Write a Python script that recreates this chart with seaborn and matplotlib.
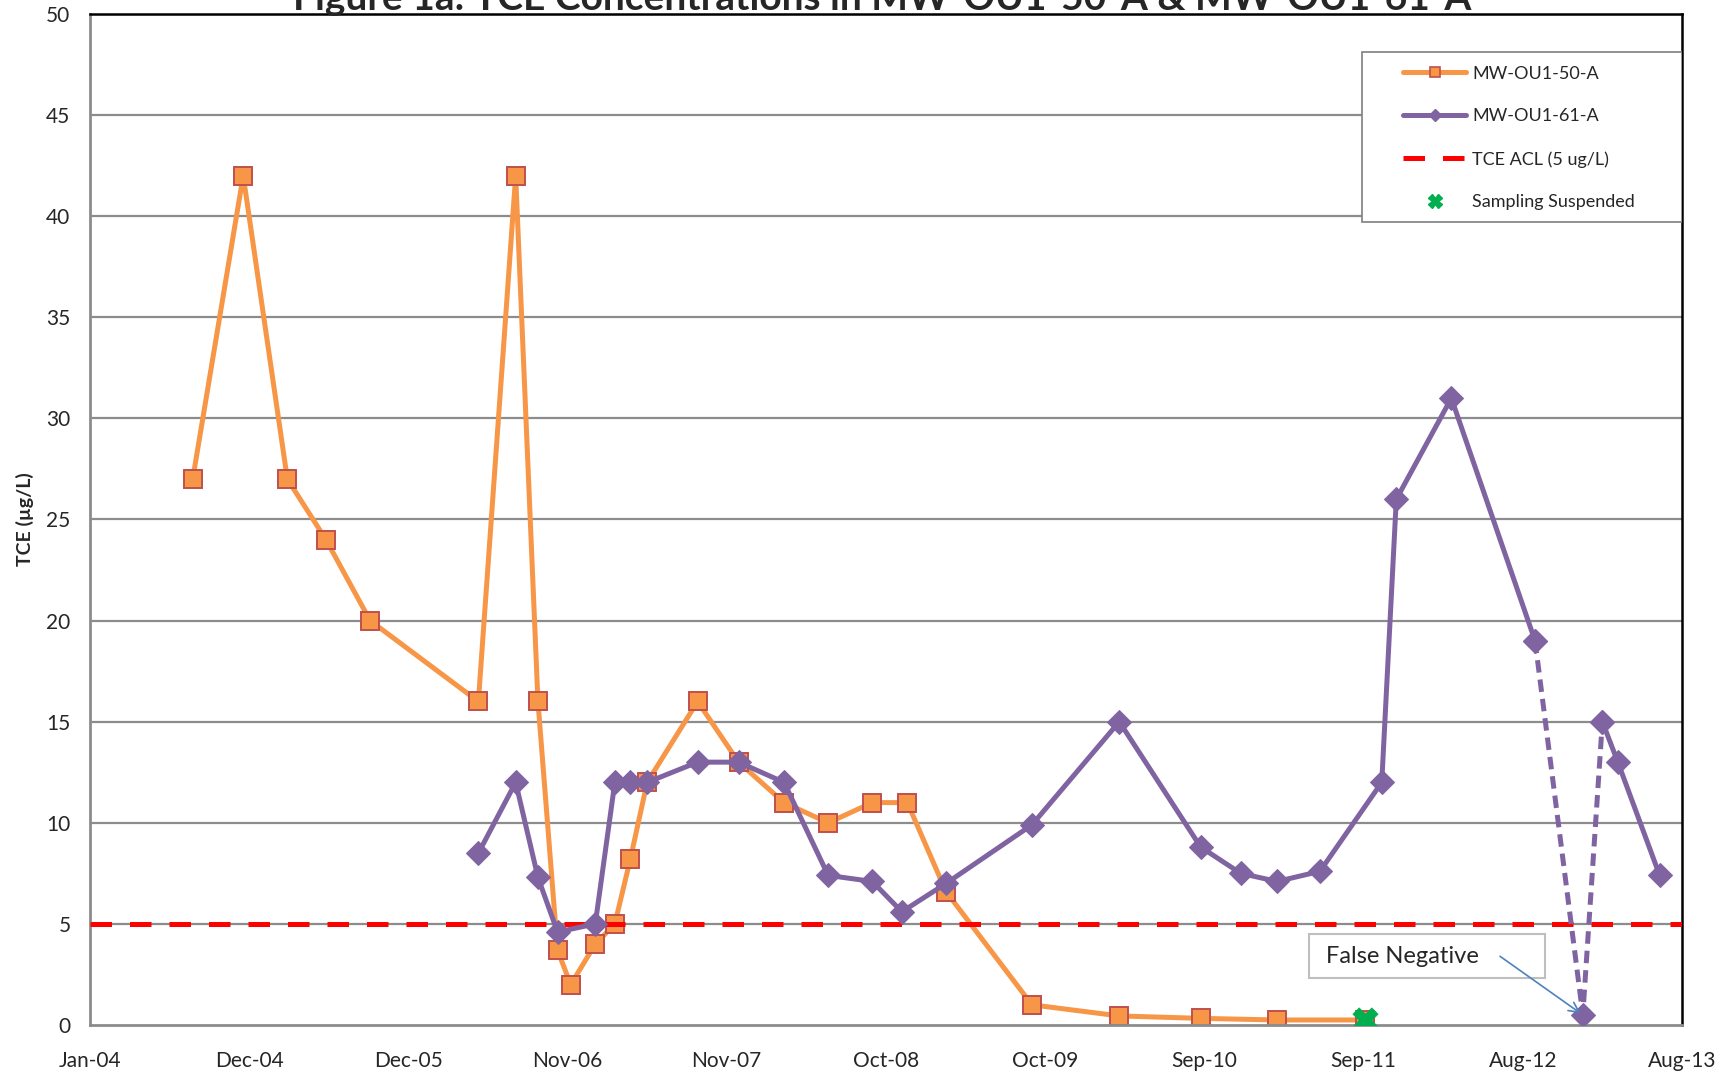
import pandas as pd
import matplotlib
matplotlib.use('Agg')
import matplotlib.pyplot as plt
from matplotlib.lines import Line2D
from matplotlib.patches import Rectangle
import seaborn as sns

# data
ou50_dates = ['2004-08-14', '2004-12-03', '2005-03-10', '2005-06-03', '2005-09-08',
              '2006-05-04', '2006-07-25', '2006-09-12', '2006-10-25', '2006-11-23',
              '2007-01-16', '2007-02-28', '2007-04-03', '2007-05-10', '2007-08-29',
              '2007-11-27', '2008-03-06', '2008-06-11', '2008-09-16', '2008-12-02',
              '2009-02-25', '2009-09-02', '2010-03-13', '2010-09-08', '2011-02-23',
              '2011-09-05']
ou50_tce = [27, 42, 27, 24, 20, 16, 42, 16, 3.7, 2.0, 4.0, 5.0, 8.2, 12, 16,
            13, 11, 10, 11, 11, 6.6, 1.0, 0.45, 0.33, 0.25, 0.25]

ou61_dates = ['2006-05-04', '2006-07-25', '2006-09-12', '2006-10-25', '2007-01-16',
              '2007-02-28', '2007-04-03', '2007-05-10', '2007-08-29', '2007-11-27',
              '2008-03-06', '2008-06-11', '2008-09-16', '2008-11-20', '2009-02-25',
              '2009-09-02', '2010-03-13', '2010-09-08', '2010-12-05', '2011-02-23',
              '2011-05-28', '2011-10-11', '2011-11-12', '2012-03-12', '2012-09-12',
              '2012-12-26', '2013-02-07', '2013-03-13', '2013-06-13']
ou61_tce = [8.5, 12, 7.3, 4.6, 5.0, 12, 12, 12, 13, 13, 12, 7.4, 7.1, 5.6, 7.0,
            9.9, 15, 8.8, 7.5, 7.1, 7.6, 12, 26, 31, 19, 0.5, 15, 13, 7.4]
# points joined by a dashed segment (false negative)
dashed_idx = [24, 25, 26]
false_neg_idx = 25

acl_value = 5
suspended_date = ['2011-09-05']
suspended_tce = [0.25]

tick_labels = ['Jan-04', 'Dec-04', 'Dec-05', 'Nov-06', 'Nov-07', 'Oct-08',
               'Oct-09', 'Sep-10', 'Sep-11', 'Aug-12', 'Aug-13']

orange = '#F79646'
orange_edge = '#C0504D'
purple = '#8064A2'
green = '#00B050'
lw = 3.6

df50 = pd.DataFrame({'date': pd.to_datetime(ou50_dates), 'tce': ou50_tce})
df61 = pd.DataFrame({'date': pd.to_datetime(ou61_dates), 'tce': ou61_tce})
dfsus = pd.DataFrame({'date': pd.to_datetime(suspended_date), 'tce': suspended_tce})

sns.set_style('white')
plt.rcParams['font.family'] = ['Lato', 'DejaVu Sans']

fig = plt.figure(figsize=(17.29, 10.73), dpi=100)
ax = fig.add_axes([0.052, 0.0447, 0.9208, 0.9423])

# grid
for v in range(5, 51, 5):
    ax.axhline(v, color='#8c8c8c', lw=1.6, zorder=0)

sns.lineplot(data=df50, x='date', y='tce', ax=ax, color=orange, lw=lw,
             marker='s', markersize=13, markerfacecolor=orange,
             markeredgecolor=orange_edge, markeredgewidth=1.4, zorder=2)

ax.axhline(acl_value, color='red', lw=lw, dashes=(4.3, 3.6), zorder=3)

solid1 = df61.iloc[:dashed_idx[0] + 1]
dashed = df61.iloc[dashed_idx]
solid2 = df61.iloc[dashed_idx[-1]:]
for part in [solid1, solid2]:
    sns.lineplot(data=part, x='date', y='tce', ax=ax, color=purple, lw=lw,
                 marker='D', markersize=12, markeredgecolor=purple, zorder=4)
sns.lineplot(data=dashed, x='date', y='tce', ax=ax, color=purple, lw=lw,
             marker='D', markersize=12, markeredgecolor=purple, zorder=4)
ax.lines[-1].set_dashes((2.5, 1.4))

sns.scatterplot(data=dfsus, x='date', y='tce', ax=ax, marker='X', s=330,
                color=green, edgecolor=green, linewidth=0.5, zorder=6)

# axes
start = pd.Timestamp('2004-01-01')
ticks = pd.date_range(start, periods=len(tick_labels), freq='350D')
ax.set_xlim(ticks[0], ticks[-1])
ax.set_ylim(0, 50)
ax.set_xticks(ticks)
ax.set_xticklabels(tick_labels, fontsize=15)
ax.set_yticks(range(0, 51, 5))
ax.set_yticklabels([str(v) for v in range(0, 51, 5)], fontsize=15)
ax.tick_params(axis='x', direction='out', length=6, width=1.2, color='#8c8c8c', pad=13)
ax.tick_params(axis='y', direction='out', length=6, width=1.2, color='#8c8c8c', pad=8)
ax.set_xlabel('')
ax.set_ylabel('TCE (µg/L)', fontsize=14, fontweight='bold')
ax.yaxis.set_label_coords(-0.035, 0.5)
for s in ['left', 'bottom']:
    ax.spines[s].set_color('#8c8c8c')
    ax.spines[s].set_linewidth(2)
for s in ['top', 'right']:
    ax.spines[s].set_color('black')
    ax.spines[s].set_linewidth(1.8)

# annotation
fn_date = df61['date'].iloc[false_neg_idx]
fn_val = df61['tce'].iloc[false_neg_idx]
ax.add_patch(Rectangle((0.766, 0.0465), 0.148, 0.0435, transform=ax.transAxes,
                       fc='white', ec='#bfbfbf', lw=1.5, zorder=6))
ax.text(0.7767, 0.0673, 'False Negative', fontsize=17, va='center', ha='left',
        transform=ax.transAxes, zorder=7)
ax.annotate('', xy=(fn_date, fn_val), xytext=(pd.Timestamp('2012-06-27'), 3.4),
            arrowprops=dict(arrowstyle='->', color='#4F81BD', lw=1.2,
                            mutation_scale=18, shrinkA=0, shrinkB=2), zorder=7)

# legend
ax.add_patch(Rectangle((0.799, 0.794), 0.201, 0.168, transform=ax.transAxes,
                       fc='white', ec='#7f7f7f', lw=1.2, zorder=7))
handles = [
    Line2D([], [], color=orange, lw=lw, marker='s', markersize=7.5,
           markerfacecolor=orange, markeredgecolor=orange_edge, markeredgewidth=1.2),
    Line2D([], [], color=purple, lw=lw, marker='D', markersize=6,
           markeredgecolor=purple),
    Line2D([], [], color='red', lw=lw, dashes=(4.3, 3.6)),
    Line2D([], [], color=green, lw=0, marker='X', markersize=10,
           markeredgecolor=green),
]
labels = ['MW-OU1-50-A', 'MW-OU1-61-A', 'TCE ACL (5 ug/L)', 'Sampling Suspended']
leg = ax.legend(handles, labels, loc='upper left', bbox_to_anchor=(0.8245, 0.949),
                fontsize=13, labelspacing=1.48, handlelength=3.54,
                handletextpad=0.3, borderpad=0, borderaxespad=0, frameon=False)
leg.set_zorder(8)

fig.text(0.51, 1 - 10 / 1073, 'Figure 1a: TCE Concentrations in MW-OU1-50-A & MW-OU1-61-A',
         fontsize=28, fontweight='bold', ha='center', va='baseline')

fig.savefig('out.png', dpi=100)
